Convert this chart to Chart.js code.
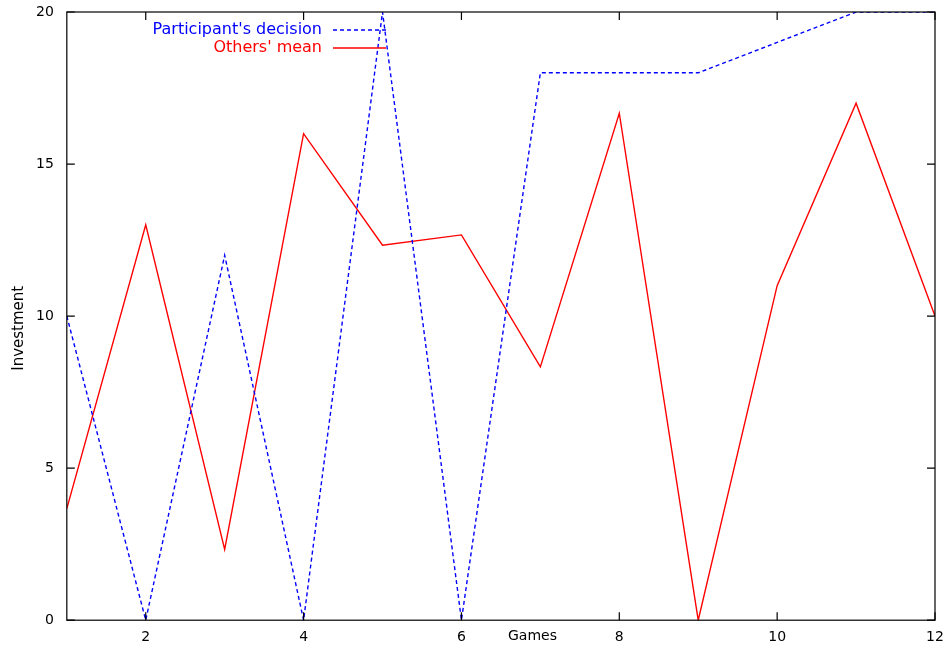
<!DOCTYPE html>
<html>
<head>
<title>Investment per game</title>
<script src="https://cdn.jsdelivr.net/npm/chart.js@4/dist/chart.umd.min.js"></script>
<style>
  body { margin: 0; background: #fff; }
  #wrap { width: 949px; height: 653px; }
</style>
</head>
<body>
<div id="wrap"><canvas id="chartcanvas"></canvas></div>
<script>
// data
const games = [1, 2, 3, 4, 5, 6, 7, 8, 9, 10, 11, 12];
const participant = [10, 0, 12, 0, 20, 0, 18, 18, 18, 19, 20, 20];
const othersMean = [3.67, 13, 2.33, 16, 12.33, 12.67, 8.33, 16.67, 0, 11, 17, 10];
const xTicks = [2, 4, 6, 8, 10, 12];
const yTicks = [0, 5, 10, 15, 20];

const FONT = 'DejaVu Sans, Liberation Sans, sans-serif';

// frame, inward ticks, legend and axis titles, gnuplot style
const framePlugin = {
  id: 'frame',
  afterDraw(chart) {
    const c = chart.ctx, a = chart.chartArea;
    const xs = chart.scales.x, ys = chart.scales.y;
    c.save();
    c.strokeStyle = '#000';
    c.lineWidth = 1.2;
    c.strokeRect(a.left, a.top, a.right - a.left, a.bottom - a.top);
    const t = 8;
    c.beginPath();
    xTicks.forEach(v => {
      const px = xs.getPixelForValue(v);
      c.moveTo(px, a.bottom); c.lineTo(px, a.bottom - t);
      c.moveTo(px, a.top); c.lineTo(px, a.top + t);
    });
    yTicks.forEach(v => {
      const py = ys.getPixelForValue(v);
      c.moveTo(a.left, py); c.lineTo(a.left + t, py);
      c.moveTo(a.right, py); c.lineTo(a.right - t, py);
    });
    c.stroke();

    // x axis title sits in the tick label row
    c.fillStyle = '#000';
    c.font = '14px ' + FONT;
    c.textAlign = 'center';
    c.textBaseline = 'middle';
    c.fillText('Games', xs.getPixelForValue(6.9), a.bottom + 16);

    // y axis title
    c.save();
    c.translate(19, ys.getPixelForValue(9.6));
    c.rotate(-Math.PI / 2);
    c.font = '15px ' + FONT;
    c.fillText('Investment', 0, 0);
    c.restore();

    // legend
    c.font = '16px ' + FONT;
    c.textAlign = 'right';
    const items = [
      {label: "Participant's decision", color: '#0000ff', dash: [4, 3], y: a.top + 18},
      {label: "Others' mean", color: '#ff0000', dash: [], y: a.top + 36}
    ];
    items.forEach(it => {
      c.fillStyle = it.color;
      c.fillText(it.label, 322, it.y);
      c.strokeStyle = it.color;
      c.lineWidth = 1.4;
      c.setLineDash(it.dash);
      c.beginPath();
      c.moveTo(333, it.y); c.lineTo(386, it.y);
      c.stroke();
    });
    c.restore();
  }
};

const noEdgePad = s => { s.paddingTop = 0; s.paddingBottom = 0; s.paddingLeft = 0; s.paddingRight = 0; };

const ctx = document.getElementById('chartcanvas');
const chart = new Chart(ctx, {
  type: 'line',
  data: {
    datasets: [{
      label: "Participant's decision",
      data: games.map((g, i) => ({x: g, y: participant[i]})),
      borderColor: '#0000ff',
      borderWidth: 1.4,
      borderDash: [4, 3],
      pointRadius: 0,
      tension: 0
    },
    {
      label: "Others' mean",
      data: games.map((g, i) => ({x: g, y: othersMean[i]})),
      borderColor: '#ff0000',
      borderWidth: 1.4,
      pointRadius: 0,
      tension: 0
    }]
  },
  options: {
    responsive: true,
    maintainAspectRatio: false,
    animation: false,
    layout: { padding: { left: 23, right: 14, top: 12, bottom: -2 } },
    plugins: { legend: { display: false }, tooltip: { enabled: false } },
    scales: {
      x: {
        type: 'linear',
        min: 1, max: 12,
        afterBuildTicks: axis => { axis.ticks = xTicks.map(v => ({value: v})); },
        afterFit: noEdgePad,
        grid: { display: false, drawTicks: false },
        border: { display: false },
        ticks: { color: '#000', font: { size: 14, family: FONT }, padding: 9, maxRotation: 0 }
      },
      y: {
        min: 0, max: 20,
        afterBuildTicks: axis => { axis.ticks = yTicks.map(v => ({value: v})); },
        afterFit: noEdgePad,
        grid: { display: false, drawTicks: false },
        border: { display: false },
        ticks: { color: '#000', font: { size: 14, family: FONT }, padding: 13 }
      }
    }
  },
  plugins: [framePlugin]
});
</script>
</body>
</html>
